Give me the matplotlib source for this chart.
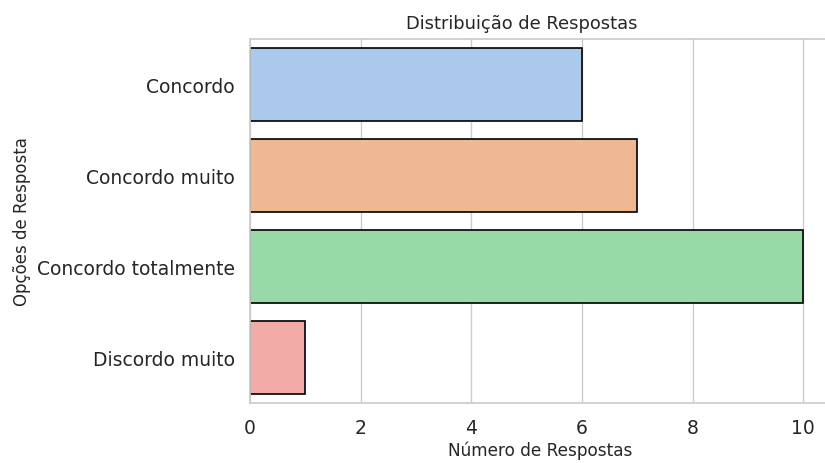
import matplotlib
matplotlib.use("Agg")
import matplotlib.pyplot as plt
import seaborn as sns

categories = ["Concordo", "Concordo muito", "Concordo totalmente", "Discordo muito"]
counts = [6, 7, 10, 1]

sns.set_theme(style="whitegrid")
plt.rcParams['font.family'] = ['DejaVu Sans']

fig = plt.figure(figsize=(8.25, 4.64), dpi=100)
ax = fig.add_axes([250/825, 1-404/464, (831-250)/825, (404-40)/464])
sns.barplot(x=counts, y=categories, hue=categories, palette="pastel", edgecolor="black",
            linewidth=1.2, ax=ax, legend=False, orient="h")
ax.set_xlim(0, 10.5)
ax.set_title("Distribuição de Respostas", fontsize=12.9, color="#262626",
             x=(522-250)/(831-250), pad=8)
ax.set_xlabel("Número de Respostas", fontsize=12.2, labelpad=3)
ax.set_ylabel("Opções de Resposta", fontsize=12, labelpad=4)
ax.tick_params(axis='both', labelsize=13.5)
ax.tick_params(axis='x', pad=4.5)
ax.tick_params(axis='y', pad=5)
ax.set_xticks([0, 2, 4, 6, 8, 10])
fig.savefig("out.png", dpi=100)
